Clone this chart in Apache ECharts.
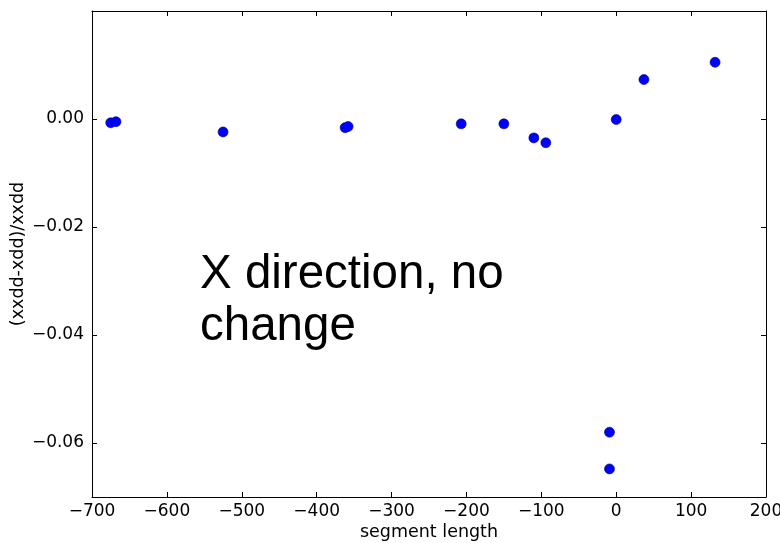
<!DOCTYPE html>
<html>
<head>
<meta charset="utf-8">
<script src="https://cdn.jsdelivr.net/npm/echarts@6/dist/echarts.min.js"></script>
<style>
  html, body { margin: 0; padding: 0; background: #fff; }
  #main { width: 780px; height: 543px; }
</style>
</head>
<body>
<div id="main"></div>
<script>
// points
var segLength = [-675, -668, -525, -362, -358, -207, -150, -110, -94, 0, 37, 132, -9, -9];
var relDiff = [-0.0007, -0.0005, -0.0024, -0.0016, -0.0014, -0.0009, -0.0009, -0.0035, -0.0044, -0.0001, 0.0073, 0.0105, -0.0580, -0.0648];
var yTicks = [-0.06, -0.04, -0.02, 0];
var note = 'X direction, no\nchange';

var chart = echarts.init(document.getElementById('main'));

var pts = [];
for (var i = 0; i < segLength.length; i++) {
    pts.push([segLength[i], relDiff[i]]);
}

var tickFont = { fontFamily: 'DejaVu Sans', fontSize: 17, color: '#000' };
var nameFont = { fontFamily: 'DejaVu Sans', fontSize: 17.5, color: '#000' };
var line = { show: true, onZero: false, lineStyle: { color: '#000', width: 1 } };

var option = {
    animation: false,
    grid: { left: 92, right: 14, top: 11, bottom: 46, containLabel: false, outerBoundsMode: 'none' },
    xAxis: [
        {
            type: 'value', min: -700, max: 200, interval: 100,
            position: 'bottom',
            axisLine: line,
            axisTick: { show: true, inside: true, length: 5, lineStyle: { color: '#000' } },
            axisLabel: Object.assign({ margin: 6, formatter: function (v) { return String(v).replace('-', '\u2212'); } }, tickFont),
            splitLine: { show: false },
            name: 'segment length', nameLocation: 'middle', nameGap: 26, nameMoveOverlap: false,
            nameTextStyle: nameFont
        },
        {
            type: 'value', min: -700, max: 200, interval: 100,
            position: 'top',
            axisLine: line,
            axisTick: { show: true, inside: true, length: 5, lineStyle: { color: '#000' } },
            axisLabel: { show: false },
            splitLine: { show: false }
        }
    ],
    yAxis: [
        {
            type: 'value', min: -0.07, max: 0.02,
            position: 'left',
            axisLine: line,
            axisTick: { show: true, inside: true, length: 5, customValues: yTicks, lineStyle: { color: '#000' } },
            axisLabel: Object.assign({
                margin: 8, customValues: yTicks,
                formatter: function (v) { return v.toFixed(2).replace('-', '\u2212'); }
            }, tickFont),
            splitLine: { show: false },
            name: '(xxdd-xdd)/xxdd', nameLocation: 'middle', nameGap: 65, nameMoveOverlap: false,
            nameTextStyle: nameFont
        },
        {
            type: 'value', min: -0.07, max: 0.02,
            position: 'right',
            axisLine: line,
            axisTick: { show: true, inside: true, length: 5, customValues: yTicks, lineStyle: { color: '#000' } },
            axisLabel: { show: false },
            splitLine: { show: false }
        }
    ],
    graphic: [{
        type: 'text',
        left: 200,
        top: 249,
        style: {
            text: note,
            fontFamily: 'Liberation Sans',
            fontSize: 47.5,
            lineHeight: 52,
            fill: '#000'
        }
    }],
    series: [{
        type: 'scatter',
        xAxisIndex: 0,
        yAxisIndex: 0,
        data: pts,
        symbolSize: 10,
        itemStyle: { color: '#0000ff', borderColor: '#00006e', borderWidth: 0.6, opacity: 1 }
    }]
};

chart.setOption(option);
</script>
</body>
</html>
